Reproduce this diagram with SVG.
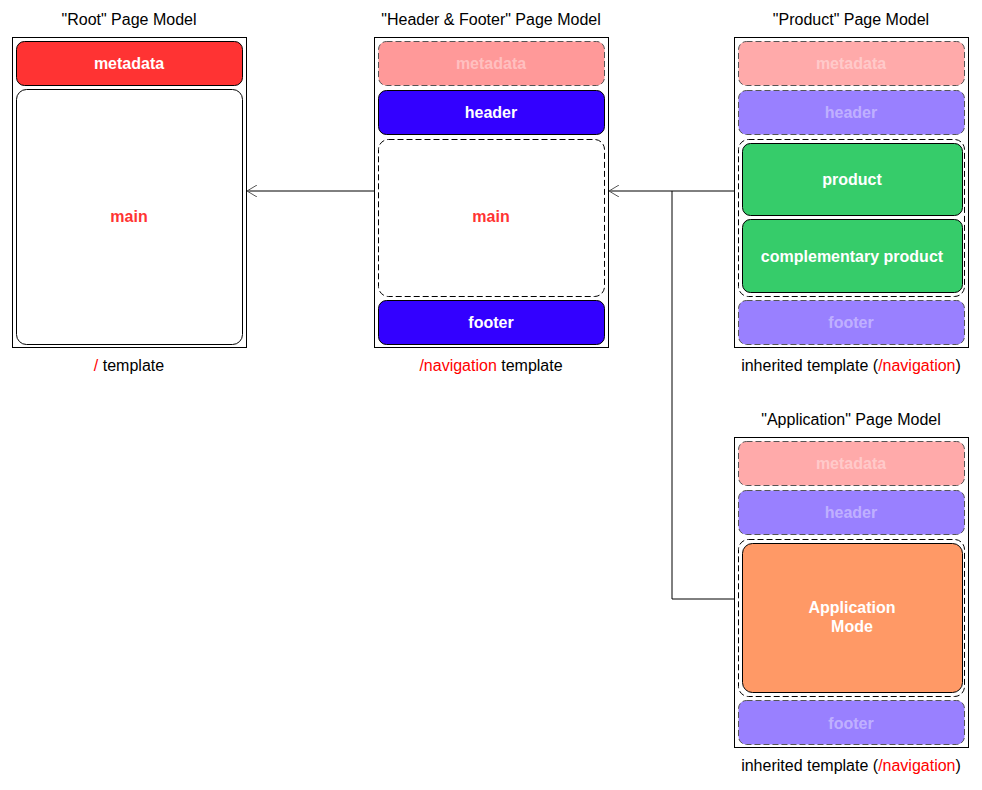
<svg xmlns="http://www.w3.org/2000/svg" width="982" height="790" viewBox="0 0 982 790">
<defs>
<style>
text{font-family:"Liberation Sans",Arial,sans-serif;font-size:16px;text-anchor:middle}
.t{fill:#000}
.lbl{font-weight:bold;fill:#fff}
.faint{font-weight:bold;fill:#fff;fill-opacity:0.4}
.red{fill:#ff0000}
.page{fill:#fff;stroke:#000;stroke-width:1}
.ghost{stroke:#555;stroke-width:1;stroke-dasharray:6 3}
.solid{stroke:#000;stroke-width:1}
.dash{fill:#fff;stroke:#000;stroke-width:1;stroke-dasharray:6 3}
.conn{fill:none;stroke:#000;stroke-width:1}
</style>
<marker id="arr" viewBox="0 0 12 12" refX="11" refY="6" markerWidth="12" markerHeight="12" markerUnits="userSpaceOnUse" orient="auto">
<path d="M1,0 L11,6 L1,12" fill="none" stroke="#555" stroke-width="1"/>
</marker>
</defs>

<g id="connectors">
<path class="conn" d="M374,191 H247" marker-end="url(#arr)"/>
<path class="conn" d="M734,191 H609" marker-end="url(#arr)"/>
<path class="conn" d="M672,191 V599 H734"/>
</g>

<g id="root">
<text class="t" x="129" y="25">"Root" Page Model</text>
<rect class="page" x="12.5" y="37.5" width="234" height="310"/>
<rect class="solid" x="16.5" y="41.5" width="226" height="44" rx="8" fill="#ff3333"/>
<text class="lbl" x="129" y="69">metadata</text>
<rect class="solid" x="16.5" y="89.5" width="226" height="255" rx="10" fill="#fff"/>
<text x="129" y="222" style="font-weight:bold;fill:#ff3333">main</text>
<text class="t" x="129" y="371"><tspan class="red">/</tspan> template</text>
</g>

<g id="headerfooter">
<text class="t" x="491" y="25">"Header &amp; Footer" Page Model</text>
<rect class="page" x="374.5" y="37.5" width="234" height="310"/>
<rect class="ghost" x="378.5" y="41.5" width="226" height="44" rx="8" fill="#ff9999"/>
<text class="faint" x="491" y="69">metadata</text>
<rect class="solid" x="378.5" y="90.5" width="226" height="44" rx="8" fill="#3300ff"/>
<text class="lbl" x="491" y="118">header</text>
<rect class="dash" x="378.5" y="139.5" width="226" height="157" rx="10"/>
<text x="491" y="222" style="font-weight:bold;fill:#ff3333">main</text>
<rect class="solid" x="378.5" y="300.5" width="226" height="44" rx="8" fill="#3300ff"/>
<text class="lbl" x="491" y="328">footer</text>
<text class="t" x="491" y="371"><tspan class="red">/navigation</tspan> template</text>
</g>

<g id="product">
<text class="t" x="851" y="25">"Product" Page Model</text>
<rect class="page" x="734.5" y="37.5" width="234" height="310"/>
<rect class="ghost" x="738.5" y="41.5" width="226" height="44" rx="8" fill="#ffaaaa"/>
<text class="faint" x="851" y="69">metadata</text>
<rect class="ghost" x="738.5" y="90.5" width="226" height="44" rx="8" fill="#9980ff"/>
<text class="faint" x="851" y="118">header</text>
<rect class="dash" x="738.5" y="139.5" width="226" height="157" rx="10"/>
<rect class="solid" x="742.5" y="143.5" width="220" height="72" rx="8" fill="#36cc6a"/>
<text class="lbl" x="852" y="185">product</text>
<rect class="solid" x="742.5" y="219.5" width="220" height="73" rx="8" fill="#36cc6a"/>
<text class="lbl" x="852" y="262">complementary product</text>
<rect class="ghost" x="738.5" y="300.5" width="226" height="44" rx="8" fill="#9980ff"/>
<text class="faint" x="851" y="328">footer</text>
<text class="t" x="851" y="371">inherited template (<tspan class="red">/navigation</tspan>)</text>
</g>

<g id="application">
<text class="t" x="851" y="425">"Application" Page Model</text>
<rect class="page" x="734.5" y="437.5" width="234" height="310"/>
<rect class="ghost" x="738.5" y="441.5" width="226" height="44" rx="8" fill="#ffaaaa"/>
<text class="faint" x="851" y="469">metadata</text>
<rect class="ghost" x="738.5" y="490.5" width="226" height="44" rx="8" fill="#9980ff"/>
<text class="faint" x="851" y="518">header</text>
<rect class="dash" x="738.5" y="539.5" width="226" height="157" rx="10"/>
<rect class="solid" x="742.5" y="543.5" width="220" height="149" rx="10" fill="#ff9966"/>
<text class="lbl" x="852" y="613">Application</text>
<text class="lbl" x="852" y="632">Mode</text>
<rect class="ghost" x="738.5" y="700.5" width="226" height="44" rx="8" fill="#9980ff"/>
<text class="faint" x="851" y="729">footer</text>
<text class="t" x="851" y="771">inherited template (<tspan class="red">/navigation</tspan>)</text>
</g>
</svg>
